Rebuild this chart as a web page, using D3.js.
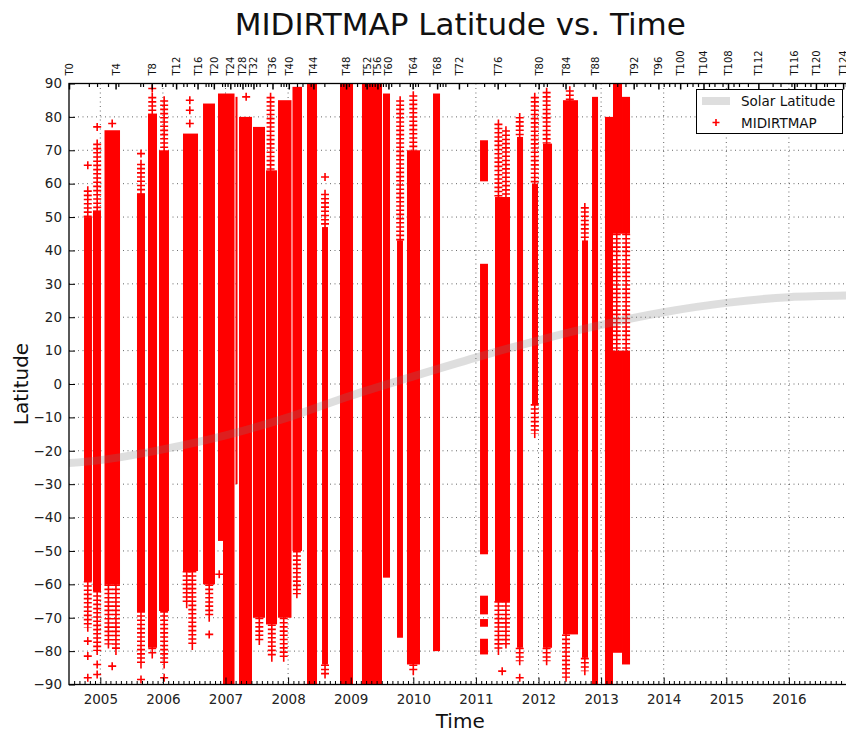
<!DOCTYPE html>
<html>
<head>
<meta charset="utf-8">
<script src="https://cdnjs.cloudflare.com/ajax/libs/d3/7.8.5/d3.min.js"></script>
<style>
  body { margin: 0; background: #fff; }
  text { font-family: "DejaVu Sans", sans-serif; }
</style>
</head>
<body>
<div id="svg-area"></div>
<script>

// Titan flyby dates, index = flyby number (T0 .. T126), used for the top axis
var flybyDates = [
  "2004-07-02", "2004-10-26", "2004-12-13", "2005-02-15", "2005-03-31", "2005-04-16",
  "2005-08-22", "2005-09-07", "2005-10-28", "2005-12-26", "2006-01-15", "2006-02-27",
  "2006-03-19", "2006-04-30", "2006-05-20", "2006-07-02", "2006-07-22", "2006-09-07",
  "2006-09-23", "2006-10-09", "2006-10-25", "2006-12-12", "2006-12-28", "2007-01-13",
  "2007-01-29", "2007-02-22", "2007-03-10", "2007-03-26", "2007-04-10", "2007-04-26",
  "2007-05-12", "2007-05-28", "2007-06-13", "2007-06-29", "2007-07-19", "2007-08-31",
  "2007-10-02", "2007-11-19", "2007-12-05", "2007-12-20", "2008-01-05", "2008-02-22",
  "2008-03-25", "2008-05-12", "2008-05-28", "2008-07-31", "2008-11-03", "2008-11-19",
  "2008-12-05", "2008-12-21", "2009-02-07", "2009-03-27", "2009-04-04", "2009-04-20",
  "2009-05-05", "2009-05-21", "2009-06-06", "2009-06-22", "2009-07-08", "2009-07-24",
  "2009-08-09", "2009-08-25", "2009-10-12", "2009-12-12", "2009-12-28", "2010-01-12",
  "2010-01-28", "2010-04-05", "2010-05-20", "2010-06-05", "2010-06-21", "2010-07-07",
  "2010-09-24", "2010-11-11", "2011-02-18", "2011-04-19", "2011-05-08", "2011-06-20",
  "2011-09-12", "2011-12-13", "2012-01-02", "2012-01-30", "2012-02-19", "2012-05-22",
  "2012-06-07", "2012-07-24", "2012-09-26", "2012-11-13", "2012-11-29", "2013-02-17",
  "2013-04-05", "2013-05-23", "2013-07-10", "2013-07-26", "2013-09-12", "2013-10-14",
  "2013-12-01", "2014-01-01", "2014-02-02", "2014-03-06", "2014-04-07", "2014-05-17",
  "2014-06-18", "2014-07-20", "2014-08-21", "2014-09-22", "2014-10-24", "2014-12-10",
  "2015-01-11", "2015-02-12", "2015-03-16", "2015-05-07", "2015-07-07", "2015-09-28",
  "2015-11-13", "2016-01-16", "2016-02-01", "2016-02-16", "2016-04-04", "2016-05-06",
  "2016-06-07", "2016-07-25", "2016-08-10", "2016-09-27", "2016-11-13", "2016-11-29",
  "2017-04-22"
];

// Solar latitude (grey band)
var solarYears = [2004.5, 2005, 2006, 2007, 2008, 2009, 2010, 2011, 2012, 2013, 2014, 2015, 2016, 2017];
var solarLat   = [-23.7, -22.8, -19.6, -15.4, -10.0, -3.5, 2.3, 7.9, 13.1, 17.7, 21.5, 24.3, 26.0, 26.5];

// MIDIRTMAP coverage, dense part of each flyby: [start year, end year, lowest lat, highest lat]
var strips = [
  [2004.740, 2004.867, -59, 50],
  [2004.883, 2005.011, -62, 52],
  [2005.067, 2005.315, -60, 76],
  [2005.586, 2005.714, -68, 57],
  [2005.762, 2005.906, -79, 81],
  [2005.938, 2006.097, -68, 70],
  [2006.321, 2006.561, -56, 75],
  [2006.641, 2006.832, -60, 84],
  [2006.880, 2006.960, -47, 87],
  [2006.960, 2007.144, -90, 87],
  [2007.160, 2007.192, -30, 86],
  [2007.216, 2007.423, -90, 80],
  [2007.439, 2007.631, -70, 77],
  [2007.647, 2007.823, -72, 64],
  [2007.839, 2008.054, -70, 85],
  [2008.070, 2008.222, -50, 89],
  [2008.302, 2008.462, -90, 90],
  [2008.542, 2008.637, -84, 47],
  [2008.829, 2009.037, -90, 90],
  [2009.180, 2009.500, -90, 90],
  [2009.516, 2009.628, -58, 87],
  [2009.740, 2009.835, -76, 43],
  [2009.899, 2010.107, -84, 70],
  [2010.315, 2010.427, -80, 87],
  [2011.066, 2011.193, 60.7, 73],
  [2011.066, 2011.193, -51, 36],
  [2011.066, 2011.193, -69, -63.4],
  [2011.066, 2011.193, -72.7, -70.4],
  [2011.066, 2011.193, -81, -76.3],
  [2011.305, 2011.545, -65, 56],
  [2011.657, 2011.753, -79, 74],
  [2011.896, 2011.992, -6, 60],
  [2012.072, 2012.216, -79, 72],
  [2012.391, 2012.631, -75, 85],
  [2012.695, 2012.791, -82, 43],
  [2012.855, 2012.951, -90, 86],
  [2013.062, 2013.190, -90, 80],
  [2013.190, 2013.334, 45, 90],
  [2013.190, 2013.334, -80.5, 10],
  [2013.334, 2013.462, 45, 86],
  [2013.334, 2013.462, -84, 10]
];

// Stacks of separate points at the ends of the flybys: [year, lat from, lat to]
var tails = [
  [2004.80, 50, 58], [2004.80, -59, -73],
  [2004.95, 52, 72], [2004.95, -62, -80],
  [2005.13, -60, -78], [2005.25, -60, -80],
  [2005.65, 57, 66], [2005.65, -68, -84],
  [2005.83, 81, 86], [2005.83, -79, -81],
  [2006.02, 70, 85], [2006.02, -68, -84],
  [2006.47, -56, -78.5], [2006.38, -56, -66],
  [2006.74, -60, -70],
  [2007.54, -70, -77],
  [2007.72, 64, 86], [2007.74, -72, -82],
  [2007.93, -70, -82],
  [2008.14, -50, -63],
  [2008.59, 47, 57], [2008.59, -84, -87],
  [2009.79, 43, 85],
  [2010.00, 70, 86.5], [2010.00, -84, -86],
  [2011.36, 56, 78], [2011.48, 56, 76], [2011.36, -65, -80], [2011.48, -65, -78],
  [2011.70, 74, 80], [2011.70, -79, -83],
  [2011.94, 60, 86], [2011.94, -6, -15],
  [2012.13, 72, 87.5], [2012.13, -79, -83],
  [2012.44, -75, -88], [2012.50, 85, 88],
  [2012.74, 43, 53], [2012.74, -82, -86],
  [2013.25, 10, 45], [2013.40, 10, 45]
];

// Single isolated points: [year, lat]
var strays = [
  [2004.80, 65.5], [2004.80, -77], [2004.80, -81.5], [2004.80, -88],
  [2004.95, 77], [2004.95, -84], [2004.95, -87],
  [2005.19, 78], [2005.19, -84.5],
  [2005.65, 69], [2005.65, -88.5],
  [2005.83, 88.5],
  [2006.02, -88],
  [2006.43, 85], [2006.43, 82], [2006.43, 78],
  [2006.74, -75],
  [2006.90, -57],
  [2007.33, 86],
  [2008.59, 62],
  [2011.42, -86],
  [2011.70, -88]
];

// Tick labels
var yearTicks = [2005, 2006, 2007, 2008, 2009, 2010, 2011, 2012, 2013, 2014, 2015, 2016];
var latTicks = [-90, -80, -70, -60, -50, -40, -30, -20, -10, 0, 10, 20, 30, 40, 50, 60, 70, 80, 90];


// Define SVG area and plot box
var svgWidth = 846;
var svgHeight = 736;

var plotLeft = 69;
var plotRight = 851.5;
var plotTop = 83.5;
var plotBottom = 684.5;

var svg = d3.select("#svg-area")
  .append("svg")
  .attr("width", svgWidth)
  .attr("height", svgHeight)
  .style("display", "block");

// date string -> decimal year
function toYear(s) {
  var d = new Date(s + "T00:00:00Z");
  var y = d.getUTCFullYear();
  var start = Date.UTC(y, 0, 1);
  var end = Date.UTC(y + 1, 0, 1);
  return y + (d - start) / (end - start);
}

var xScale = d3.scaleLinear()
  .domain([2004.5, 2017])
  .range([plotLeft, plotRight]);

var yScale = d3.scaleLinear()
  .domain([-90, 90])
  .range([plotBottom, plotTop]);

svg.append("clipPath")
  .attr("id", "plot-clip")
  .append("rect")
  .attr("x", plotLeft)
  .attr("y", plotTop)
  .attr("width", plotRight - plotLeft)
  .attr("height", plotBottom - plotTop);

// Grid (dotted, classic matplotlib look)
var grid = svg.append("g").attr("clip-path", "url(#plot-clip)");

grid.selectAll(".vgrid")
  .data(yearTicks)
  .enter()
  .append("line")
  .attr("x1", d => xScale(d))
  .attr("x2", d => xScale(d))
  .attr("y1", plotTop)
  .attr("y2", plotBottom)
  .attr("stroke", "#000")
  .attr("stroke-width", 0.8)
  .attr("stroke-dasharray", "1,3.5")
  .attr("opacity", 0.75);

grid.selectAll(".hgrid")
  .data(latTicks)
  .enter()
  .append("line")
  .attr("x1", plotLeft)
  .attr("x2", plotRight)
  .attr("y1", d => yScale(d))
  .attr("y2", d => yScale(d))
  .attr("stroke", "#000")
  .attr("stroke-width", 0.8)
  .attr("stroke-dasharray", "1,3.5")
  .attr("opacity", 0.75);

// MIDIRTMAP points
var marks = svg.append("g").attr("clip-path", "url(#plot-clip)");

marks.selectAll("rect")
  .data(strips)
  .enter()
  .append("rect")
  .attr("x", d => xScale(d[0]))
  .attr("width", d => xScale(d[1]) - xScale(d[0]))
  .attr("y", d => yScale(d[3]))
  .attr("height", d => yScale(d[2]) - yScale(d[3]))
  .attr("fill", "#ff0000");

// stacked "+" markers: a thin stem plus dashed arms
marks.selectAll(".tail-stem")
  .data(tails)
  .enter()
  .append("line")
  .attr("class", "tail-stem")
  .attr("x1", d => xScale(d[0]))
  .attr("x2", d => xScale(d[0]))
  .attr("y1", d => yScale(Math.max(d[1], d[2])) - 4)
  .attr("y2", d => yScale(Math.min(d[1], d[2])) + 4)
  .attr("stroke", "#ff0000")
  .attr("stroke-width", 1.6);

marks.selectAll(".tail-arms")
  .data(tails)
  .enter()
  .append("line")
  .attr("class", "tail-arms")
  .attr("x1", d => xScale(d[0]))
  .attr("x2", d => xScale(d[0]))
  .attr("y1", d => yScale(Math.max(d[1], d[2])))
  .attr("y2", d => yScale(Math.min(d[1], d[2])))
  .attr("stroke", "#ff0000")
  .attr("stroke-width", 8)
  .attr("stroke-dasharray", "1.6,2.6");

var plusPath = "M-4,0H4M0,-4V4";

marks.selectAll(".stray")
  .data(strays)
  .enter()
  .append("path")
  .attr("class", "stray")
  .attr("transform", d => `translate(${xScale(d[0])},${yScale(d[1])})`)
  .attr("d", plusPath)
  .attr("stroke", "#ff0000")
  .attr("stroke-width", 1.6)
  .attr("fill", "none");

// Solar latitude band (drawn over the points, semi-transparent)
var solarLine = d3.line()
  .x((d, i) => xScale(solarYears[i]))
  .y(d => yScale(d))
  .curve(d3.curveMonotoneX);

svg.append("path")
  .attr("clip-path", "url(#plot-clip)")
  .attr("d", solarLine(solarLat))
  .attr("fill", "none")
  .attr("stroke", "#7a7a7a")
  .attr("stroke-opacity", 0.25)
  .attr("stroke-width", 8);

// Axes
var tickFont = "13.5px";

// bottom: years, inward ticks
var bottomAxis = d3.axisBottom(xScale)
  .tickValues(yearTicks)
  .tickFormat(d3.format("d"))
  .tickSizeInner(-7)
  .tickSizeOuter(0)
  .tickPadding(10);

var bottomG = svg.append("g")
  .attr("transform", `translate(0, ${plotBottom})`)
  .call(bottomAxis);
bottomG.select(".domain").remove();
bottomG.selectAll("text").attr("font-size", tickFont).attr("fill", "#222").attr("font-family", "DejaVu Sans");

// bottom minor ticks, one per month
var monthTicks = [];
for (var yy = 2004; yy <= 2017; yy++) {
  for (var mm = 1; mm < 12; mm++) {
    var v = toYear(yy + "-" + String(mm + 1).padStart(2, "0") + "-01");
    if (v > 2004.5 && v < 2017) monthTicks.push(v);
  }
}
var monthG = svg.append("g")
  .attr("transform", `translate(0, ${plotBottom})`)
  .call(d3.axisBottom(xScale).tickValues(monthTicks).tickFormat("").tickSizeInner(-3.5).tickSizeOuter(0));
monthG.select(".domain").remove();

// left: latitude
var leftAxis = d3.axisLeft(yScale)
  .tickValues(latTicks)
  .tickFormat(d3.format("d"))
  .tickSizeInner(-6)
  .tickSizeOuter(0)
  .tickPadding(7);

var leftG = svg.append("g")
  .attr("transform", `translate(${plotLeft}, 0)`)
  .call(leftAxis);
leftG.select(".domain").remove();
leftG.selectAll("text").attr("font-size", tickFont).attr("fill", "#222").attr("font-family", "DejaVu Sans");

// top: flybys, every fourth one labelled
var flybyYears = flybyDates.map(toYear);
var majorFlybys = flybyYears.filter((d, i) => i % 4 === 0);
var minorFlybys = flybyYears.filter((d, i) => i % 4 !== 0);

var topG = svg.append("g")
  .attr("transform", `translate(0, ${plotTop})`)
  .call(d3.axisTop(xScale)
    .tickValues(majorFlybys)
    .tickFormat((d, i) => "T" + (i * 4))
    .tickSizeInner(-6)
    .tickSizeOuter(0));
topG.select(".domain").remove();
topG.selectAll("line").attr("stroke-width", 1.5);
topG.selectAll("text")
  .attr("transform", "rotate(-90)")
  .attr("x", 8)
  .attr("y", 0)
  .attr("dy", "0.35em")
  .attr("text-anchor", "start")
  .attr("font-size", "10px")
  .attr("fill", "#111")
  .attr("font-family", "DejaVu Sans");

var topMinorG = svg.append("g")
  .attr("transform", `translate(0, ${plotTop})`)
  .call(d3.axisTop(xScale).tickValues(minorFlybys).tickFormat("").tickSizeInner(-3.5).tickSizeOuter(0));
topMinorG.select(".domain").remove();
topMinorG.selectAll("line").attr("stroke-width", 1.2);

// Drop the ticks that fall outside the axes
[bottomG, monthG, topG, topMinorG].forEach(function(g) {
  g.selectAll(".tick").filter(d => d > 2017 || d < 2004.5).remove();
});

// Axes frame
svg.append("rect")
  .attr("x", plotLeft)
  .attr("y", plotTop)
  .attr("width", plotRight - plotLeft)
  .attr("height", plotBottom - plotTop)
  .attr("fill", "none")
  .attr("stroke", "#000")
  .attr("stroke-width", 1.3);

// Legend
var legend = svg.append("g");

legend.append("rect")
  .attr("x", 696.5)
  .attr("y", 89.5)
  .attr("width", 146)
  .attr("height", 44)
  .attr("fill", "#fff")
  .attr("stroke", "#000")
  .attr("stroke-width", 1);

legend.append("line")
  .attr("x1", 702)
  .attr("x2", 730)
  .attr("y1", 101)
  .attr("y2", 101)
  .attr("stroke", "#7a7a7a")
  .attr("stroke-opacity", 0.25)
  .attr("stroke-width", 8);

legend.append("path")
  .attr("transform", "translate(716,122.5)")
  .attr("d", "M-3.5,0H3.5M0,-3.5V3.5")
  .attr("stroke", "#ff0000")
  .attr("stroke-width", 1.6);

legend.append("text")
  .attr("x", 741)
  .attr("y", 106)
  .attr("font-size", "13.5px")
  .attr("fill", "#111")
  .text("Solar Latitude");

legend.append("text")
  .attr("x", 741)
  .attr("y", 127.5)
  .attr("font-size", "13.5px")
  .attr("fill", "#111")
  .text("MIDIRTMAP");

// Titles
svg.append("text")
  .attr("x", (plotLeft + plotRight) / 2)
  .attr("y", 35)
  .attr("text-anchor", "middle")
  .attr("font-size", "31px")
  .attr("fill", "#111")
  .text("MIDIRTMAP Latitude vs. Time");

svg.append("text")
  .attr("transform", `translate(28, ${(plotTop + plotBottom) / 2}) rotate(-90)`)
  .attr("text-anchor", "middle")
  .attr("font-size", "20px")
  .attr("fill", "#111")
  .text("Latitude");

svg.append("text")
  .attr("x", (plotLeft + plotRight) / 2)
  .attr("y", 728)
  .attr("text-anchor", "middle")
  .attr("font-size", "20px")
  .attr("fill", "#111")
  .text("Time");

</script>
</body>
</html>
